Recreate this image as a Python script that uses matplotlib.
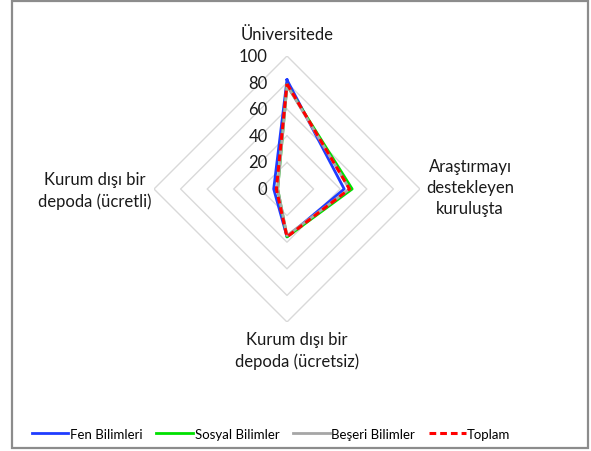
import numpy as np
import matplotlib
matplotlib.use("Agg")
import matplotlib.pyplot as plt
from matplotlib.patches import Rectangle

plt.rcParams['font.family'] = ['Lato', 'DejaVu Sans']

categories = ["Üniversitede", "Araştırmayı\ndestekleyen\nkuruluşta",
              "Kurum dışı bir\ndepoda (ücretsiz)", "Kurum dışı bir\ndepoda (ücretli)"]
series_names = ["Fen Bilimleri", "Sosyal Bilimler", "Beşeri Bilimler", "Toplam"]
fen = [82, 43, 36, 10]
sosyal = [78, 49, 36, 7]
beseri = [78, 47, 35, 7]
toplam = [79, 47, 36, 8]
ticks = [0, 20, 40, 60, 80, 100]

series = [fen, sosyal, beseri, toplam]
colors = ["#1f3cff", "#00e000", "#a6a6a6", "#ff0000"]
styles = ["-", "-", "-", (0, (2.2, 1.3))]
widths = [2.0, 2.0, 2.0, 2.2]

fig = plt.figure(figsize=(5.91, 4.52), dpi=100)
W, H = 591, 452
cx, cy, R = 287, 190, 133
ax = fig.add_axes([(cx - R) / W, (H - cy - R) / H, 2 * R / W, 2 * R / H], projection='polar')
ax.set_theta_offset(np.pi / 2)
ax.set_theta_direction(-1)
ax.set_ylim(0, 100)
ax.grid(False)
ax.spines['polar'].set_visible(False)
ax.set_xticks([])
ax.set_yticks([])
ax.patch.set_alpha(0)

n = len(categories)
theta = np.linspace(0, 2 * np.pi, n, endpoint=False)
theta_c = np.append(theta, theta[0])

# diamond gridlines
for t in ticks[1:]:
    ax.plot(theta_c, [t] * (n + 1), color="#d9d9d9", lw=1.0, zorder=1)

for vals, c, ls, lw, name in zip(series, colors, styles, widths, series_names):
    v = np.append(vals, vals[0])
    ax.plot(theta_c, v, color=c, ls=ls, lw=lw, label=name, zorder=3)

# radial tick labels
for t in ticks:
    ax.annotate(str(t), xy=(0, t), xycoords='data', xytext=(-14, 0),
                textcoords='offset points', ha='right', va='center', fontsize=12, color="#1a1a1a")

# category labels (figure pixel positions from top)
fs = 12
fig.text(cx / W, 1 - 35 / H, categories[0], ha='center', va='center', fontsize=fs, color="#1a1a1a")
fig.text(470 / W, 1 - 188 / H, categories[1], ha='center', va='center', fontsize=fs,
         color="#1a1a1a", linespacing=1.35)
fig.text(297 / W, 1 - 351 / H, categories[2], ha='center', va='center', fontsize=fs,
         color="#1a1a1a", linespacing=1.35)
fig.text(95 / W, 1 - 191 / H, categories[3], ha='center', va='center', fontsize=fs,
         color="#1a1a1a", linespacing=1.35)

leg = fig.legend(loc='center', bbox_to_anchor=(271 / W, 1 - 435 / H), ncol=4, frameon=False,
                 fontsize=9.5, handlelength=2.8, handletextpad=0.1, columnspacing=1.05,
                 borderaxespad=0, borderpad=0)

fig.patches.append(Rectangle((12 / W, 1 - 449 / H), 576 / W, 447 / H, transform=fig.transFigure,
                             fill=False, edgecolor="#8c8c8c", lw=1.6))

fig.savefig("out.png", dpi=100)
